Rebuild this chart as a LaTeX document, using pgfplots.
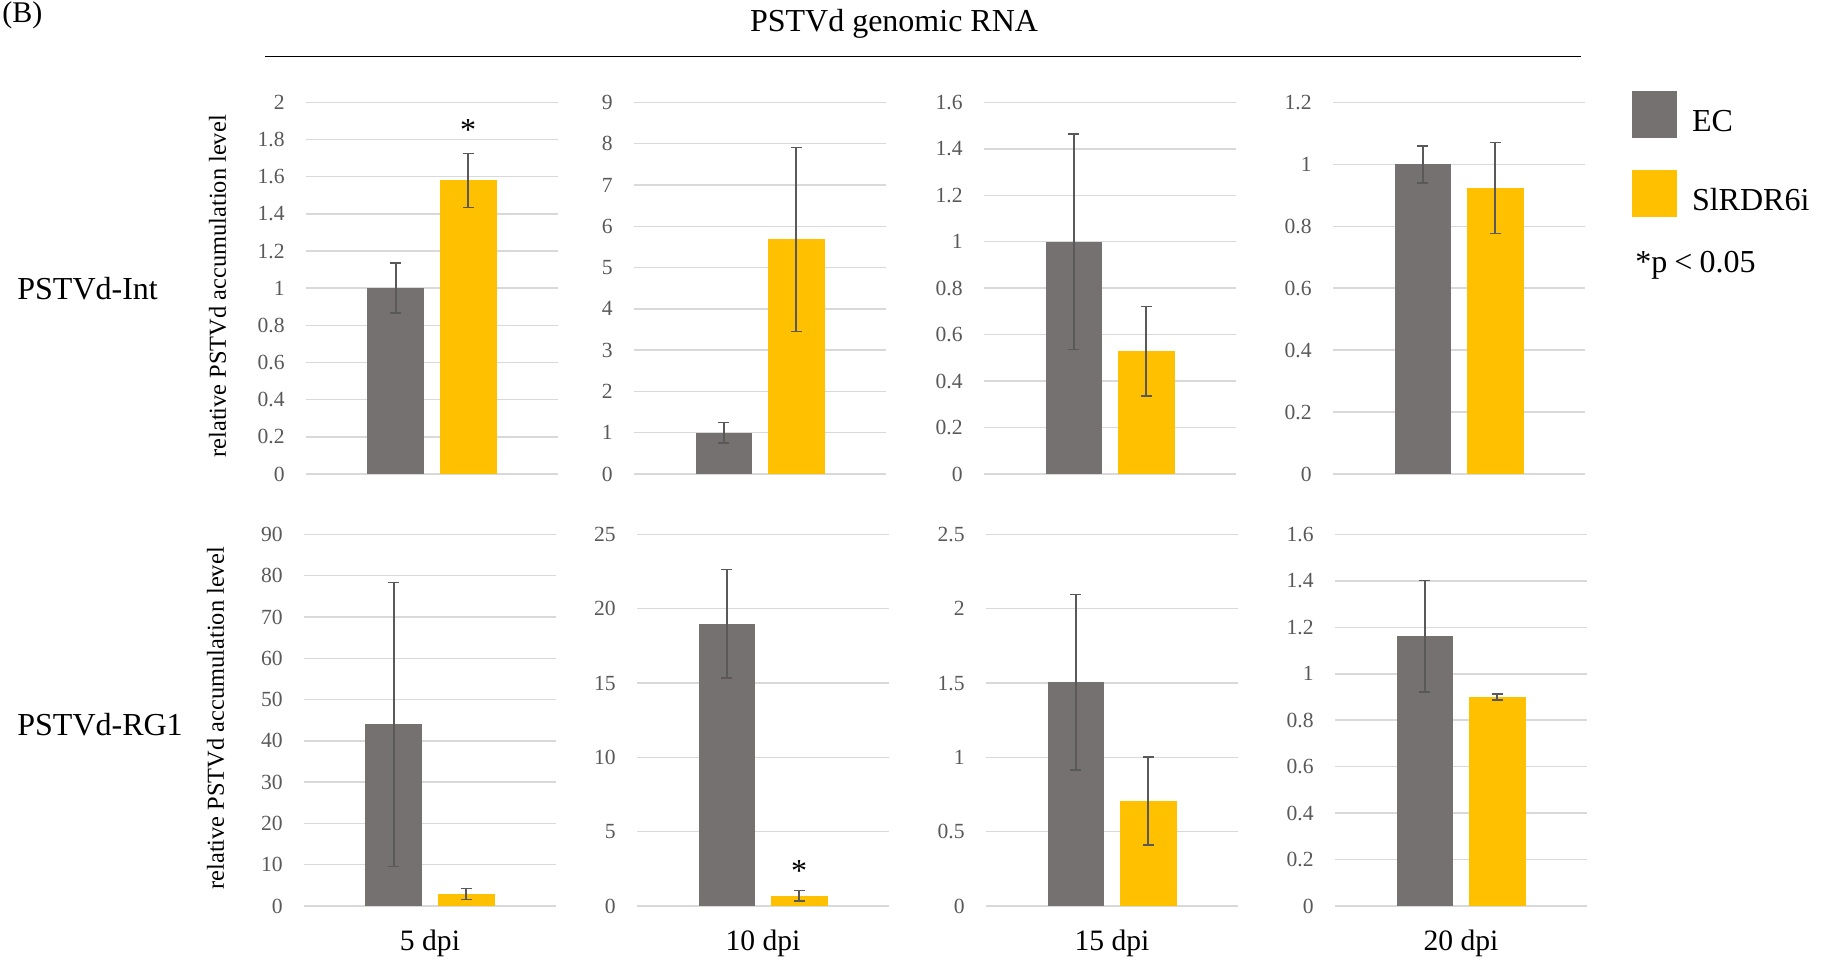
\documentclass[border=0pt]{standalone}
\usepackage{fontspec}
\setmainfont{Liberation Serif}
\usepackage{pgfplots}
\pgfplotsset{compat=1.18}

\definecolor{ecgray}{HTML}{767171}
\definecolor{slgold}{HTML}{FFC000}
\definecolor{errgray}{HTML}{595959}
\definecolor{tickgray}{HTML}{595959}
\definecolor{gridgray}{HTML}{D9D9D9}

\newcommand{\tickfont}{\fontsize{10.8}{12}\selectfont}
\newcommand{\dpifont}{\fontsize{14.8}{17}\selectfont}
\newcommand{\bigfont}{\fontsize{16}{19}\selectfont}

\pgfplotsset{
  panel/.style={
    scale only axis, width=126pt, height=185.8pt,
    anchor=south west,
    xmin=-0.5, xmax=0.5, ymin=0,
    axis line style={draw=none},
    xtick=\empty,
    ymajorgrids,
    major grid style={draw=gridgray, line width=0.75pt},
    major tick length=0pt,
    yticklabel style={font=\tickfont, text=tickgray, anchor=east, inner sep=0pt, xshift=-10.5pt},
    /pgf/number format/assume math mode=true,
    scaled y ticks=false,
    clip=false,
    every axis y label/.style={at={(axis description cs:-0.351,0.505)}, rotate=90, anchor=center,
      font=\fontsize{12.2}{14}\selectfont},
    every axis x label/.style={at={(axis description cs:0.5,0)}, anchor=base, yshift=-22pt,
      font=\dpifont},
  },
  errs/.style={error bars/y dir=both, error bars/y explicit,
    error bars/error bar style={line width=0.8pt, color=errgray},
    error bars/error mark options={rotate=90, line width=0.8pt, mark size=2.75pt, color=errgray}},
  ec/.style={ybar, bar width=0.226, bar shift=0pt, fill=ecgray, draw=none, errs},
  sl/.style={ybar, bar width=0.226, bar shift=0pt, fill=slgold, draw=none, errs},
}

\begin{document}
\begin{tikzpicture}
\useasboundingbox (0pt,0pt) rectangle (912.5pt,-480.5pt);

% ---- top row: PSTVd-Int
\begin{axis}[panel, at={(153pt,-237pt)}, ymax=2,
  ytick={0,0.2,0.4,0.6,0.8,1,1.2,1.4,1.6,1.8,2},
  ylabel={relative PSTVd accumulation level}]
\addplot[ec] coordinates {(-0.143,1.00) +- (0,0.135)};
\addplot[sl] coordinates {(0.143,1.58) +- (0,0.145)};
\node[font=\bigfont] at (axis cs:0.143,1.853) {*};
\end{axis}

\begin{axis}[panel, at={(317pt,-237pt)}, ymax=9,
  ytick={0,1,2,3,4,5,6,7,8,9}]
\addplot[ec] coordinates {(-0.143,1.00) +- (0,0.25)};
\addplot[sl] coordinates {(0.143,5.68) +- (0,2.23)};
\end{axis}

\begin{axis}[panel, at={(492pt,-237pt)}, ymax=1.6,
  ytick={0,0.2,0.4,0.6,0.8,1,1.2,1.4,1.6}]
\addplot[ec] coordinates {(-0.143,1.00) +- (0,0.464)};
\addplot[sl] coordinates {(0.143,0.529) +- (0,0.192)};
\end{axis}

\begin{axis}[panel, at={(666.5pt,-237pt)}, ymax=1.2,
  ytick={0,0.2,0.4,0.6,0.8,1,1.2},
  legend style={at={(axis description cs:1.1865,1.0304)}, anchor=north west,
    draw=none, fill=none, inner sep=0pt, outer sep=0pt, row sep=10.8pt,
    nodes={inner sep=0pt}, font=\bigfont,
    /tikz/every odd column/.append style={column sep=7.5pt}},
  legend cell align=left]
\addplot[ec, legend image code/.code={\fill[ecgray] (0pt,-4.5pt) rectangle (22.5pt,19pt);}]
  coordinates {(-0.143,1.00) +- (0,0.06)};
\addlegendentry{\raisebox{7pt}{EC}}
\addplot[sl, legend image code/.code={\fill[slgold] (0pt,-4.5pt) rectangle (22.5pt,19pt);}]
  coordinates {(0.143,0.923) +- (0,0.147)};
\addlegendentry{\raisebox{7pt}{SlRDR6i}}
\end{axis}

% ---- bottom row: PSTVd-RG1
\begin{axis}[panel, at={(152pt,-453pt)}, ymax=90,
  ytick={0,10,20,30,40,50,60,70,80,90},
  ylabel={relative PSTVd accumulation level}, xlabel={5 dpi}]
\addplot[ec] coordinates {(-0.143,44.0) +- (0,34.4)};
\addplot[sl] coordinates {(0.143,2.9) +- (0,1.3)};
\end{axis}

\begin{axis}[panel, at={(318.5pt,-453pt)}, ymax=25,
  ytick={0,5,10,15,20,25}, xlabel={10 dpi}]
\addplot[ec] coordinates {(-0.143,19.0) +- (0,3.65)};
\addplot[sl] coordinates {(0.143,0.7) +- (0,0.35)};
\node[font=\bigfont] at (axis cs:0.143,2.38) {*};
\end{axis}

\begin{axis}[panel, at={(493pt,-453pt)}, ymax=2.5,
  ytick={0,0.5,1,1.5,2,2.5}, xlabel={15 dpi}]
\addplot[ec] coordinates {(-0.143,1.506) +- (0,0.59)};
\addplot[sl] coordinates {(0.143,0.707) +- (0,0.295)};
\end{axis}

\begin{axis}[panel, at={(667.5pt,-453pt)}, ymax=1.6,
  ytick={0,0.2,0.4,0.6,0.8,1,1.2,1.4,1.6}, xlabel={20 dpi}]
\addplot[ec] coordinates {(-0.143,1.162) +- (0,0.24)};
\addplot[sl] coordinates {(0.143,0.899) +- (0,0.013)};
\end{axis}

% ---- figure annotations
\node[font=\fontsize{15}{18}\selectfont, anchor=north west, inner sep=0pt] at (1pt,-0.5pt) {(B)};
\node[font=\bigfont, anchor=base, inner sep=0pt] at (447pt,-16pt) {PSTVd genomic RNA};
\draw[line width=0.65pt] (132.5pt,-28.3pt) -- (790.5pt,-28.3pt);
\node[font=\bigfont, anchor=base west, inner sep=0pt] at (8.5pt,-150pt) {PSTVd-Int};
\node[font=\bigfont, anchor=base west, inner sep=0pt] at (8.5pt,-367.5pt) {PSTVd-RG1};
\node[font=\bigfont, anchor=base west, inner sep=0pt] at (817.5pt,-136.5pt)
  {*p\hspace{0.22em}<\hspace{0.22em}0.05};
\end{tikzpicture}
\end{document}
